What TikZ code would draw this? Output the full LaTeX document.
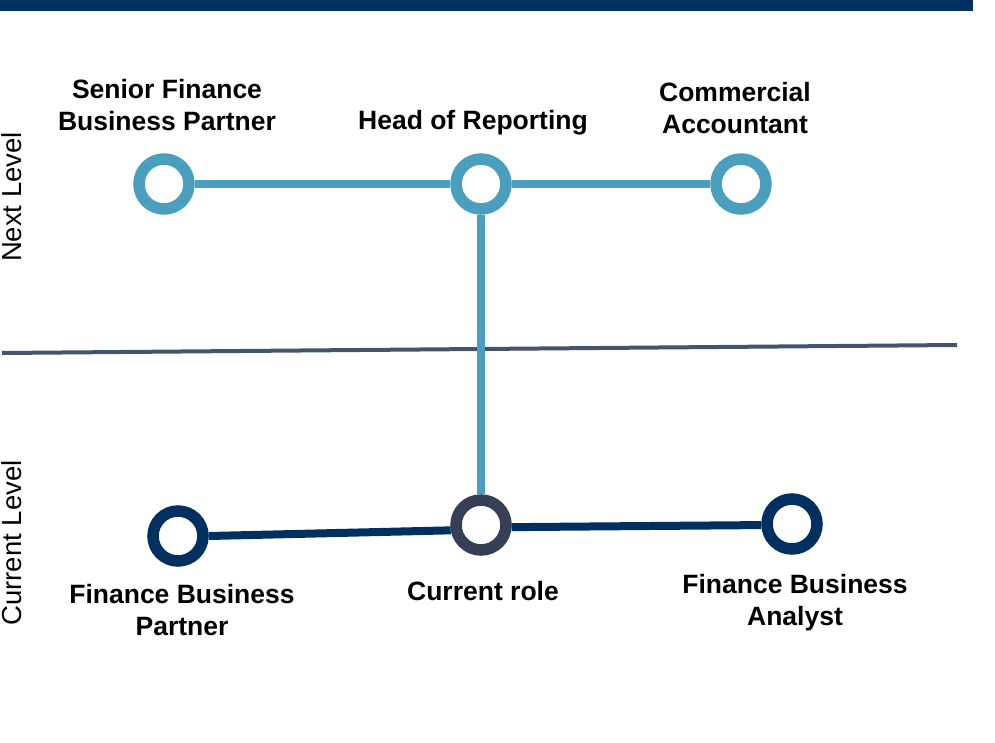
\documentclass[tikz,border=0pt]{standalone}
\usepackage{fontspec}
\setmainfont{Liberation Sans}
\definecolor{lblue}{HTML}{4A9FBF}
\definecolor{navy}{HTML}{00305F}
\definecolor{slate}{HTML}{353F55}
\definecolor{divider}{HTML}{44546A}
\begin{document}
\begin{tikzpicture}[x=1pt,y=-1pt,
  ring/.style={circle,draw,fill=white,line width=11.5pt,minimum size=50pt,inner sep=0pt},
  lab/.style={font=\fontsize{26.5}{32}\selectfont\bfseries,align=center,inner sep=0pt},
  side/.style={font=\fontsize{27.5}{32}\selectfont,rotate=90,inner sep=0pt},
  upline/.style={draw=lblue,line width=7.5pt},
  lowline/.style={draw=navy,line width=8pt}]
\useasboundingbox (0,0) rectangle (995,743);
\fill[navy] (0,0) rectangle (973,11);
\coordinate (dl) at (2,353);
\coordinate (dr) at (957,345);
\draw[divider,line width=4pt] (dl) -- (dr);
% nodes
\node[ring,draw=lblue] (sfbp) at (164,184) {};
\node[ring,draw=lblue] (hor) at (481,184) {};
\node[ring,draw=lblue] (ca) at (741,184) {};
\node[ring,draw=navy] (fbp) at (178,536) {};
\node[ring,draw=slate] (cur) at (481,525) {};
\node[ring,draw=navy] (fba) at (792,524) {};
% connectors
\draw[upline] (sfbp) -- (hor);
\draw[upline] (hor) -- (ca);
\draw[upline] (hor) -- (cur);
\draw[lowline] (fbp.east) -- (cur.190);
\draw[lowline] (cur.-4) -- (fba.182);
% labels
\node[lab] (t1) at (167,105) {Senior Finance\\Business Partner};
\node[lab] (t2) at (473,123) {Head of Reporting};
\node[lab] (t3) at (735,108.5) {Commercial\\Accountant};
\node[lab] (t4) at (182,610.5) {Finance Business\\Partner};
\node[lab] (t5) at (483,591.5) {Current role};
\node[lab] (t6) at (795,603) {Finance Business\\Analyst};
\node[side] (s1) at (12,197) {Next Level};
\node[side] (s2) at (12,543) {Current Level};
\end{tikzpicture}
\end{document}
